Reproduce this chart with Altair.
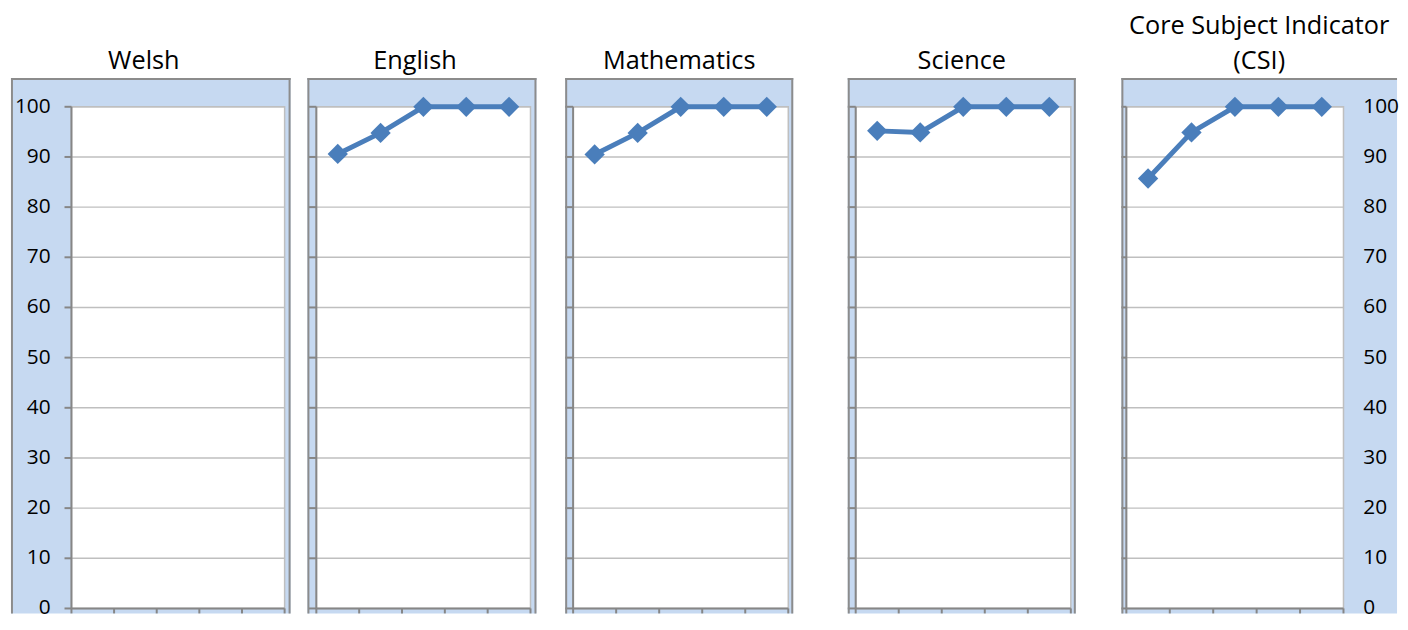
import altair as alt
import pandas as pd

# ---------------- data ----------------
title_lines = [["", "Welsh"], ["", "English"], ["", "Mathematics"], ["", "Science"],
               ["Core Subject Indicator", "(CSI)"]]
category_pos = [1, 2, 3, 4, 5]          # five years along the x axis (labels not shown)
welsh = []                               # no data plotted for Welsh
english = [90.6, 94.8, 100, 100, 100]
maths = [90.5, 94.8, 100, 100, 100]
science = [95.2, 94.9, 100, 100, 100]
csi = [85.7, 94.9, 100, 100, 100]
y_ticks = [0, 10, 20, 30, 40, 50, 60, 70, 80, 90, 100]
x_ticks = [0.5, 1.5, 2.5, 3.5, 4.5, 5.5]
series = [welsh, english, maths, science, csi]

# ---------------- layout (page pixels) ----------------
# frame left, frame right, plot left, plot right, title dx
LAYOUT = [
    (10, 292, 71, 286, -7),
    (307, 538, 316, 532, -7),
    (565, 795, 573, 790, 0),
    (848, 1078, 856, 1073, 0),
    (1122, 1400, 1127, 1346, 0),
]
FRAME_TOP, PLOT_TOP, PLOT_BOTTOM, FRAME_BOTTOM = 77, 106, 612, 617
K = (PLOT_BOTTOM - PLOT_TOP) / 100.0
YMAX = 100 + (PLOT_TOP - FRAME_TOP) / K
YMIN = -(FRAME_BOTTOM - PLOT_BOTTOM) / K

FONT = "Open Sans"
BLUE = "#4A7EBB"
FRAME_FILL = "#C6D9F1"
FRAME_STROKE = "#8C8C8C"
GRID = "#BFBFBF"
AXIS = "#868686"
BW = 2            # frame border width
YTICK = 7         # y tick length (px)
XTICK = 5         # x tick length (px)
LPAD_LEFT = 14    # gap between tick and left labels
LPAD_RIGHT = 20   # gap between plot and right labels


def panel(i):
    L, R, pL, pR, tdx = LAYOUT[i]
    bw = (pR - pL) / 5.0
    xmin = 0.5 - (pL - L) / bw
    xmax = 5.5 + (R - pR) / bw
    W = R - L
    H = FRAME_BOTTOM - FRAME_TOP
    xs = alt.Scale(domain=[xmin, xmax], nice=False, zero=False)
    ys = alt.Scale(domain=[YMIN, YMAX], nice=False, zero=False)
    ix = (BW / 2) / bw
    iy = (BW / 2) / K

    def X(f):
        return alt.X(f, scale=xs, axis=None)

    def Y(f):
        return alt.Y(f, scale=ys, axis=None)

    plot_df = pd.DataFrame({"x0": [0.5], "x1": [5.5], "y0": [0], "y1": [100]})
    base = alt.Chart(plot_df).mark_rect(fill="white", stroke=GRID, strokeWidth=1.5).encode(
        x=X("x0:Q"), x2="x1", y=Y("y0:Q"), y2="y1")

    grid_df = pd.DataFrame({"y": y_ticks[1:], "x0": 0.5, "x1": 5.5})
    grid = alt.Chart(grid_df).mark_rule(stroke=GRID, strokeWidth=1.5).encode(
        x=X("x0:Q"), x2="x1", y=Y("y:Q"))

    # y ticks
    tl = min(YTICK + 1, pL - L) if i > 0 else YTICK
    ytick_df = pd.DataFrame({"y": y_ticks, "x0": 0.5 - tl / bw, "x1": 0.5})
    yticks = alt.Chart(ytick_df).mark_rule(stroke=AXIS, strokeWidth=2).encode(
        x=X("x0:Q"), x2="x1", y=Y("y:Q"))
    # x ticks
    xtick_df = pd.DataFrame({"x": x_ticks, "y0": -XTICK / K, "y1": 0})
    xticks = alt.Chart(xtick_df).mark_rule(stroke=AXIS, strokeWidth=2).encode(
        x=X("x:Q"), y=Y("y0:Q"), y2="y1")

    yline_df = pd.DataFrame({"x": [0.5], "y0": [0], "y1": [100]})
    yline = alt.Chart(yline_df).mark_rule(stroke=AXIS, strokeWidth=2).encode(
        x=X("x:Q"), y=Y("y0:Q"), y2="y1")
    xline_df = pd.DataFrame({"y": [0], "x0": [0.5], "x1": [5.5]})
    xline = alt.Chart(xline_df).mark_rule(stroke=AXIS, strokeWidth=2).encode(
        x=X("x0:Q"), x2="x1", y=Y("y:Q"))

    # frame borders (top, left, right)
    top_df = pd.DataFrame({"y": [YMAX - iy], "x0": [xmin], "x1": [xmax]})
    top_b = alt.Chart(top_df).mark_rule(stroke=FRAME_STROKE, strokeWidth=BW).encode(
        x=X("x0:Q"), x2="x1", y=Y("y:Q"))
    side_x = [xmin + ix] if i == 4 else [xmin + ix, xmax - ix]
    side_df = pd.DataFrame({"x": side_x, "y0": YMIN, "y1": YMAX})
    side_b = alt.Chart(side_df).mark_rule(stroke=FRAME_STROKE, strokeWidth=BW).encode(
        x=X("x:Q"), y=Y("y0:Q"), y2="y1")

    layers = [base, grid, yticks, xticks, yline, xline, top_b, side_b]

    if i == 0:
        lab_df = pd.DataFrame({"y": y_ticks, "x": 0.5 - (tl + LPAD_LEFT) / bw,
                               "t": [str(v) for v in y_ticks]})
        labs = alt.Chart(lab_df).mark_text(font=FONT, fontSize=21, color="#000000",
                                           align="right", baseline="middle").encode(
            x=X("x:Q"), y=Y("y:Q"), text="t:N")
        layers.append(labs)
    if i == 4:
        lab_df = pd.DataFrame({"y": y_ticks, "x": 5.5 + LPAD_RIGHT / bw,
                               "t": [str(v) for v in y_ticks]})
        labs = alt.Chart(lab_df).mark_text(font=FONT, fontSize=21, color="#000000",
                                           align="left", baseline="middle").encode(
            x=X("x:Q"), y=Y("y:Q"), text="t:N")
        layers.append(labs)

    vals = series[i]
    if len(vals) > 0:
        df = pd.DataFrame({"x": category_pos, "v": vals})
        line = alt.Chart(df).mark_line(color=BLUE, strokeWidth=5).encode(
            x=X("x:Q"), y=Y("v:Q"))
        pts = alt.Chart(df).mark_point(shape="diamond", filled=True, size=420, color=BLUE,
                                       opacity=1).encode(x=X("x:Q"), y=Y("v:Q"))
        layers += [line, pts]

    ch = alt.layer(*layers).properties(
        width=W, height=H,
        title=alt.TitleParams(text=title_lines[i], font=FONT, fontSize=25.5,
                              fontWeight="normal", color="#000000", anchor="middle",
                              baseline="bottom", offset=-22, lineHeight=35, dx=tdx))
    return ch


panels = [panel(i) for i in range(5)]
chart = panels[0]
for j in range(1, 5):
    gap = LAYOUT[j][0] - LAYOUT[j - 1][1]
    chart = alt.hconcat(chart, panels[j], spacing=gap)

chart = chart.properties(padding={"left": 2, "top": 3, "right": 0, "bottom": 0}).configure_view(
    fill=FRAME_FILL, strokeWidth=0, stroke="transparent")

chart.save("out.html", embed_options={"renderer": "svg", "actions": False})
